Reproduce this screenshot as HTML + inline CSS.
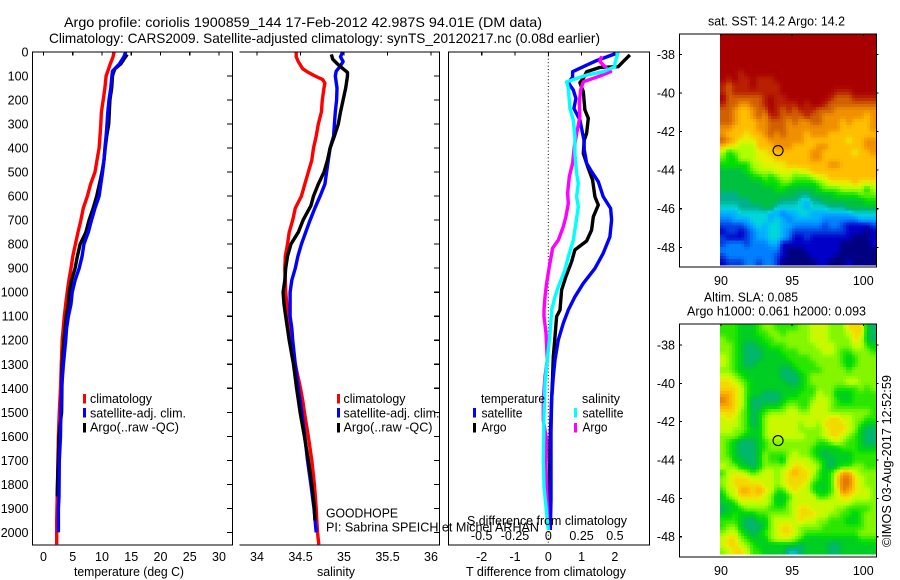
<!DOCTYPE html>
<html>
<head>
<meta charset="utf-8">
<title>Argo profile</title>
<style>
html,body{margin:0;padding:0;background:#fff;width:900px;height:580px;overflow:hidden}
svg{display:block}
text{font-family:"Liberation Sans",sans-serif;font-size:12.5px;fill:#000}
.t{font-size:14px}
</style>
</head>
<body>
<svg id="fig" xmlns="http://www.w3.org/2000/svg" width="900" height="580" viewBox="0 0 900 580">
<rect x="0" y="0" width="900" height="580" fill="#fff"/>
<g id="maps"></g>
<g id="marks"></g>
<g id="frames" fill="none" stroke="#000" stroke-width="1.2" shape-rendering="crispEdges">
  <path d="M32.5 52V545H232.5V52Z"/>
  <path d="M239.5 52H439.5V545H239.5"/>
  <path d="M448.5 52H649.5V545H448.5Z"/>
  <path d="M679.5 34H876.5V267H679.5Z"/>
  <path d="M679.5 324H876.5V557H679.5Z"/>
</g>
<g id="ticks"></g>
<g id="labels">
  <text class="t" x="64" y="27" textLength="478" lengthAdjust="spacingAndGlyphs">Argo profile: coriolis 1900859_144 17-Feb-2012 42.987S 94.01E (DM data)</text>
  <text class="t" x="49" y="43" textLength="551" lengthAdjust="spacingAndGlyphs">Climatology: CARS2009. Satellite-adjusted climatology: synTS_20120217.nc (0.08d earlier)</text>
  <text x="74" y="576" textLength="110" lengthAdjust="spacingAndGlyphs">temperature (deg C)</text>
  <text x="317" y="576" textLength="38" lengthAdjust="spacingAndGlyphs">salinity</text>
  <text x="466" y="576" textLength="160" lengthAdjust="spacingAndGlyphs">T difference from climatology</text>
  <text x="467" y="525" textLength="160" lengthAdjust="spacingAndGlyphs">S difference from climatology</text>
  <text x="326" y="517.5" textLength="72" lengthAdjust="spacingAndGlyphs">GOODHOPE</text>
  <text x="326" y="531.5" textLength="213" lengthAdjust="spacingAndGlyphs">PI: Sabrina SPEICH et Michel ARHAN</text>

  <rect x="83" y="394" width="3" height="9.5" fill="#f00"/>
  <rect x="83" y="408" width="3" height="9.5" fill="#00f"/>
  <rect x="83" y="423" width="3" height="9.5" fill="#000"/>
  <text x="90" y="403" textLength="62" lengthAdjust="spacingAndGlyphs">climatology</text>
  <text x="90" y="417.5" textLength="96" lengthAdjust="spacingAndGlyphs">satellite-adj. clim.</text>
  <text x="90" y="431.5" textLength="89" lengthAdjust="spacingAndGlyphs">Argo(..raw -QC)</text>

  <rect x="337" y="394" width="3" height="9.5" fill="#f00"/>
  <rect x="337" y="408" width="3" height="9.5" fill="#00f"/>
  <rect x="337" y="423" width="3" height="9.5" fill="#000"/>
  <text x="343.5" y="403" textLength="62" lengthAdjust="spacingAndGlyphs">climatology</text>
  <text x="343.5" y="417.5" textLength="96" lengthAdjust="spacingAndGlyphs">satellite-adj. clim.</text>
  <text x="343.5" y="431.5" textLength="89" lengthAdjust="spacingAndGlyphs">Argo(..raw -QC)</text>

  <text x="481" y="403" textLength="64" lengthAdjust="spacingAndGlyphs">temperature</text>
  <text x="582" y="403" textLength="38" lengthAdjust="spacingAndGlyphs">salinity</text>
  <rect x="473" y="408" width="3" height="9.5" fill="#00f"/>
  <rect x="473" y="423" width="3" height="9.5" fill="#000"/>
  <rect x="574" y="408" width="3" height="9.5" fill="#0ff"/>
  <rect x="574" y="423" width="3" height="9.5" fill="#f0f"/>
  <text x="481.5" y="417.5" textLength="41" lengthAdjust="spacingAndGlyphs">satellite</text>
  <text x="481.5" y="431.5" textLength="25" lengthAdjust="spacingAndGlyphs">Argo</text>
  <text x="582.5" y="417.5" textLength="41" lengthAdjust="spacingAndGlyphs">satellite</text>
  <text x="582.5" y="431.5" textLength="25" lengthAdjust="spacingAndGlyphs">Argo</text>

  <text x="708" y="25.5" textLength="137" lengthAdjust="spacingAndGlyphs">sat. SST: 14.2  Argo: 14.2</text>
  <text x="704" y="301.5" textLength="94" lengthAdjust="spacingAndGlyphs">Altim. SLA: 0.085</text>
  <text x="687" y="315.5" textLength="179" lengthAdjust="spacingAndGlyphs">Argo h1000: 0.061 h2000: 0.093</text>
  <text transform="translate(891 547) rotate(-90)" x="0" y="0" textLength="172" lengthAdjust="spacingAndGlyphs">©IMOS 03-Aug-2017 12:52:59</text>
</g>
</svg>
<script>
// ---- axis ticks ----
const depthTicks = [0,100,200,300,400,500,600,700,800,900,1000,1100,1200,1300,1400,1500,1600,1700,1800,1900,2000];
const tempTicks = [0,5,10,15,20,25,30];
const salTicks = [34,34.5,35,35.5,36];
const tDiffTicks = [-2,-1,0,1,2];
const sDiffTicks = [-0.5,-0.25,0,0.25,0.5];
const lonTicks = [90,95,100];
const latTicks = [-38,-40,-42,-44,-46,-48];

// ---- temperature profiles ----
const climTDepth = [0,20,50,80,100,150,200,250,300,350,400,450,500,550,600,650,700,750,800,850,900,950,1000,1050,1100,1200,1300,1400,1500,1600,1800,1950,2050];
const climT = [12.05,11.9,11.4,11.0,10.7,10.5,10.2,9.9,9.8,9.65,9.5,9.15,8.8,8.05,7.5,6.8,6.4,5.9,5.45,5.0,4.7,4.35,4.05,3.8,3.55,3.2,3.05,2.9,2.7,2.55,2.4,2.25,2.25];
const satTDepth = [0,20,50,80,100,150,200,250,300,350,400,450,500,550,600,650,700,750,800,850,900,950,1000,1050,1100,1150,1200,1300,1400,1500,1600,1650,1700,1850,1900,2000];
const satT = [14.05,13.75,12.95,11.8,11.7,11.5,11.2,11.0,10.85,10.7,10.5,10.35,10.1,9.8,9.5,8.8,8.2,7.65,6.9,6.6,6.1,5.4,4.9,4.7,4.25,3.95,3.8,3.4,3.1,2.95,2.9,2.8,2.7,2.65,2.55,2.55];
const argoTDepth = [10,30,50,70,90,100,150,200,250,300,350,400,450,500,550,600,650,700,750,800,850,900,950,1000,1050,1100,1200,1300,1400,1500,1550,1600,1800,1850];
const argoT = [14.3,13.75,13.2,12.2,11.9,11.8,11.65,11.35,11.25,11.15,10.8,10.55,10.35,10.0,9.55,9.1,8.5,7.8,7.25,6.25,5.8,5.4,4.8,4.4,4.25,3.9,3.5,3.2,3.15,3.1,2.85,2.65,2.4,2.35];

// ---- salinity profiles ----
const climSDepth = [0,20,40,70,85,100,115,130,150,200,250,300,350,400,450,500,550,600,650,700,750,800,850,900,1000,1100,1200,1300,1350,1400,1450,1500,1600,1700,1800,1900,2000,2050];
const climS = [34.45,34.45,34.475,34.525,34.59,34.667,34.755,34.78,34.77,34.75,34.74,34.705,34.68,34.65,34.63,34.59,34.55,34.51,34.44,34.41,34.37,34.35,34.325,34.32,34.33,34.355,34.38,34.44,34.47,34.5,34.525,34.545,34.59,34.63,34.66,34.68,34.695,34.71];
const satSDepth = [0,20,40,60,80,100,150,200,250,300,350,400,450,500,550,600,650,700,750,800,850,900,950,1000,1100,1150,1200,1300,1400,1500,1600,1700,1800,1900,2000];
const satS = [34.985,34.96,34.99,34.955,34.91,34.9,34.92,34.915,34.9,34.89,34.88,34.84,34.82,34.8,34.78,34.725,34.665,34.61,34.56,34.51,34.47,34.44,34.4,34.38,34.38,34.4,34.41,34.44,34.475,34.515,34.55,34.58,34.62,34.655,34.68];
const argoSDepth = [10,30,50,70,85,100,150,200,250,300,350,400,450,500,550,600,640,700,750,800,850,900,950,1000,1050,1100,1200,1300,1400,1500,1600,1700,1800,1900,1950];
const argoS = [34.855,34.87,34.925,34.99,35.04,35.04,35.02,34.99,34.96,34.935,34.89,34.84,34.81,34.77,34.705,34.65,34.62,34.53,34.475,34.39,34.35,34.33,34.32,34.3,34.31,34.33,34.37,34.42,34.455,34.495,34.545,34.59,34.63,34.66,34.665];

// ---- differences from climatology ----
const satTdiffDepth = [8,36,58,82,105,128,158,193,235,283,318,366,408,463,498,540,602,651,699,769,838,901,963,1019,1074,1129,1199,1282,1351,1449,1588,1865,1990];
const satTdiff = [2.0,1.45,1.1,0.73,0.73,0.6,0.75,0.83,0.77,0.95,1.0,1.07,1.08,1.15,1.3,1.5,1.65,1.87,1.9,1.85,1.65,1.4,1.05,0.8,0.6,0.45,0.3,0.2,0.15,0.1,0.08,0.08,0.06];
const argoTdiffDepth = [12,40,61,64,82,110,128,165,241,276,339,366,422,484,533,602,637,686,741,787,824,873,935,991,1074,1101,1185,1268,1351,1449,1629,1865,1976];
const argoTdiff = [2.45,2.25,2.1,1.55,1.15,1.05,0.95,1.05,1.1,1.2,1.15,1.08,1.05,1.2,1.33,1.4,1.5,1.35,1.3,1.15,0.8,0.7,0.53,0.4,0.35,0.25,0.2,0.15,0.13,0.1,0.05,0.03,0.0];
const satSdiffDepth = [0,47,61,82,96,124,151,235,283,352,422,505,547,602,644,713,783,852,908,977,1019,1074,1087,1171,1282,1379,1518,1699,1810,1893,1990];
const satSdiff = [0.525,0.5,0.5,0.4125,0.2875,0.1375,0.15,0.1625,0.1875,0.2,0.2,0.2125,0.225,0.2125,0.225,0.2075,0.1875,0.15,0.125,0.075,0.05,0.025,0.025,0.0125,-0.0075,-0.025,-0.0325,-0.0375,-0.0325,-0.0175,0.0];
const argoSdiffDepth = [17,40,61,82,100,124,158,214,269,325,394,463,519,588,630,686,727,783,817,894,963,1019,1074,1101,1171,1282,1351,1449,1532,1615,1726,1893,1990];
const argoSdiff = [0.4,0.3875,0.425,0.4675,0.3875,0.2625,0.2425,0.2325,0.2375,0.2175,0.195,0.1825,0.1575,0.145,0.15,0.1325,0.1125,0.075,0.0325,0.0075,-0.0125,-0.025,-0.0325,-0.0325,-0.0175,-0.0075,-0.025,-0.0375,-0.0375,-0.0125,-0.0175,-0.0075,0.0];

// ---- Argo float position ----
const floatLon = [94.01];
const floatLat = [-42.987];

// ---- SST map, colour-scale level per cell (row = north to south) ----
const sstLevels = [
[16,16,16,16,16,16,16,16,16,16,16,16,16,16,16,16,16,16,16,16,16,16,16,16,16,16],
[16,16,16,16,16,16,16,16,16,16,16,16,16,16,16,16,16,16,16,16,16,16,16,16,16,16],
[16,16,16,16,16,16,16,16,16,16,16,16,16,16,16,16,16,16,16,16,16,16,16,16,16,16],
[16,16,16,16,16,16,16,16,16,16,16,16,16,16,16,16,16,16,16,16,16,16,16,16,16,16],
[16,16,16,16,16,16,16,16,16,16,16,16,16,16,16,16,16,16,16,16,16,16,16,16,16,16],
[16,16,16,16,16,16,16,16,16,16,16,16,16,16,16,16,16,16,16,16,16,16,16,16,16,16],
[16,16,16,15,16,16,16,16,16,16,16,16,16,16,16,16,16,16,16,16,16,16,16,16,16,16],
[16,15,16,15,15,16,15,15,15,16,16,16,16,16,16,16,16,16,16,16,16,16,16,16,16,16],
[15,14,15,15,15,16,15,15,15,15,16,16,16,16,16,16,16,16,16,16,16,16,16,16,16,16],
[15,14,15,15,15,15,15,15,15,15,16,16,16,16,16,16,16,16,16,15,15,15,16,16,16,16],
[16,14,14,14,14,14,14,15,16,15,15,16,16,16,16,16,16,16,15,14,14,14,15,15,15,15],
[15,14,14,13,13,14,14,15,16,15,15,15,15,16,15,16,16,15,14,14,14,14,14,14,14,14],
[14,14,13,12,12,13,14,14,16,15,14,15,14,15,15,15,14,14,14,13,13,13,13,13,13,13],
[14,14,13,12,12,13,14,13,15,15,14,14,14,14,15,14,14,13,13,13,13,13,13,13,12,13],
[14,14,13,12,12,12,13,13,14,14,14,13,14,13,13,14,14,13,13,13,12,13,12,12,12,13],
[13,13,12,12,12,12,13,13,14,14,14,13,13,13,13,13,13,13,13,13,12,12,12,12,12,13],
[13,12,12,12,11,12,12,13,14,13,14,13,13,13,12,13,13,13,12,12,12,12,12,12,12,12],
[14,13,12,11,11,11,12,12,13,13,13,13,13,13,12,12,12,12,12,12,12,11,12,12,13,13],
[12,11,11,10,10,10,12,12,12,13,13,13,12,12,12,12,13,13,12,12,12,12,12,12,13,13],
[10,8,9,10,10,10,11,11,12,12,12,12,12,12,12,13,13,12,12,12,12,12,11,12,12,13],
[9,8,8,10,10,10,11,11,11,12,12,12,12,12,12,13,13,12,12,12,12,12,12,12,12,12],
[8,8,8,8,8,10,10,11,11,11,11,12,12,12,12,12,12,12,13,13,12,12,12,12,12,12],
[7,7,7,7,8,9,10,10,10,11,11,11,10,11,11,12,12,12,12,12,12,12,12,12,12,12],
[7,7,7,7,7,8,8,9,8,9,10,10,9,9,9,10,11,11,12,12,12,12,12,12,12,12],
[7,7,7,7,7,7,7,8,8,8,9,9,8,8,8,8,9,10,11,11,11,11,12,11,11,11],
[7,7,7,7,7,7,7,7,7,8,8,7,7,7,7,7,8,9,9,9,10,10,10,10,8,10],
[6,6,6,7,7,7,7,7,7,7,7,7,7,6,6,7,7,7,7,8,8,8,8,9,9,9],
[6,6,6,6,6,7,7,7,7,7,6,6,6,5,4,6,6,7,7,7,7,7,7,7,8,8],
[5,5,5,6,6,6,6,7,7,5,5,5,5,5,4,5,5,5,6,6,6,7,7,7,7,7],
[4,4,4,5,5,5,5,5,4,4,3,4,4,5,5,4,4,4,4,4,4,4,5,5,5,5],
[3,3,4,4,4,5,5,5,4,5,4,3,4,4,4,4,4,3,3,3,3,3,3,4,4,4],
[2,2,2,2,3,4,5,4,5,5,4,4,3,3,3,3,3,2,3,3,2,1,1,1,1,2],
[1,2,2,1,2,3,4,4,5,5,4,3,2,2,2,2,2,2,2,2,2,1,1,1,0,1],
[2,1,1,1,2,3,4,4,5,5,4,3,1,1,2,1,1,1,1,1,1,1,0,0,0,1],
[2,3,3,3,2,3,3,3,4,4,1,1,1,1,1,1,1,1,1,1,0,0,0,0,0,1],
[3,3,3,3,3,3,3,3,3,3,1,0,0,0,1,1,1,1,1,1,0,0,0,0,0,0],
[2,3,3,3,3,3,3,3,3,2,1,0,0,0,0,1,1,1,1,0,0,0,0,0,0,0],
[1,2,2,2,3,3,2,3,3,2,0,0,0,0,0,0,1,1,0,0,0,1,0,0,0,0]
];

// ---- SLA map, colour-scale level per cell ----
const slaLevels = [
[8,8,8,7,7,7,8,9,9,8,8,8,8,9,9,10,10,10,9,9,9,11,11,11,7,6],
[8,8,8,7,7,7,8,8,9,9,8,9,9,9,9,10,10,10,9,9,9,10,11,11,7,6],
[9,8,8,7,7,7,7,8,8,9,9,9,9,9,9,10,10,10,9,9,9,9,11,10,7,6],
[9,9,8,7,6,6,7,7,8,8,8,9,9,9,9,9,10,10,10,9,9,9,10,10,8,7],
[9,9,8,7,6,6,6,7,7,7,8,8,8,9,9,9,9,10,10,9,8,8,9,9,9,8],
[10,9,8,7,6,6,6,7,7,7,7,8,8,8,8,9,9,9,9,9,8,7,8,9,9,9],
[10,9,8,7,6,6,7,7,7,7,7,7,8,8,8,8,9,9,9,9,8,7,8,9,9,9],
[9,9,8,7,7,7,7,7,7,7,6,6,7,8,8,8,8,9,9,9,9,8,9,9,9,9],
[10,10,9,8,7,7,7,7,7,7,6,6,6,7,8,9,9,9,9,9,9,9,9,9,9,9],
[11,11,10,9,8,7,7,7,7,7,7,6,6,7,8,9,9,9,9,9,9,10,10,9,9,9],
[11,11,11,10,8,7,7,7,7,7,7,7,7,7,8,8,9,9,9,8,8,8,8,9,8,9],
[12,12,11,10,8,7,7,6,6,6,7,7,7,8,8,8,10,9,9,7,7,7,8,8,8,8],
[13,12,11,10,8,6,6,6,6,6,7,8,8,8,8,9,10,10,9,8,7,7,8,8,8,8],
[12,12,11,10,8,6,6,7,7,7,8,9,9,8,8,10,10,10,9,8,8,8,8,8,8,8],
[11,11,11,9,8,6,7,8,9,9,9,10,10,9,9,10,10,10,9,9,9,9,9,9,9,8],
[10,11,10,9,8,6,7,9,10,10,10,10,10,10,10,10,10,10,11,11,10,10,9,9,8,8],
[10,10,10,9,8,6,7,9,10,10,10,10,10,9,10,10,9,11,11,11,11,10,9,8,7,7],
[10,10,9,9,8,7,7,9,10,10,10,10,10,9,9,9,9,10,11,11,11,10,9,7,6,6],
[9,9,9,8,7,7,7,9,10,10,10,10,10,10,9,9,9,10,11,11,10,9,8,7,6,6],
[9,8,7,6,6,6,7,8,9,9,9,9,9,9,9,9,8,8,9,10,9,8,8,7,6,6],
[9,8,7,6,6,6,7,8,9,9,9,9,9,9,9,8,7,7,7,7,8,8,8,7,7,7],
[9,8,7,6,6,6,7,9,8,8,8,9,10,9,9,8,7,6,7,7,7,7,8,8,8,8],
[9,9,7,7,6,6,7,9,8,8,7,10,10,10,10,9,8,7,6,7,7,7,8,8,8,8],
[10,9,9,7,7,6,7,9,9,9,9,10,11,11,10,10,9,7,6,7,8,8,9,9,8,8],
[8,10,10,10,9,8,9,10,10,9,10,11,12,11,11,10,8,7,8,10,12,12,10,9,9,9],
[9,10,11,11,11,10,10,10,10,9,10,11,11,11,11,9,8,7,8,11,13,13,11,10,9,9],
[9,10,11,11,11,11,11,10,10,9,10,11,11,11,10,8,7,7,8,11,13,13,11,10,9,9],
[8,10,10,12,12,11,12,11,10,8,8,10,11,10,10,8,7,7,8,10,13,12,11,10,10,9],
[7,9,10,11,11,11,11,10,9,7,7,8,10,10,10,10,8,8,9,10,11,11,10,10,10,9],
[7,7,8,10,10,10,10,10,9,7,7,9,10,10,10,10,10,10,10,10,10,10,9,9,9,9],
[6,7,7,8,9,9,9,9,8,8,8,9,10,11,11,10,10,10,10,9,9,8,8,8,8,9],
[7,7,8,7,7,7,8,8,9,9,9,9,10,11,11,11,10,10,9,9,8,8,7,8,9,9],
[8,8,8,7,6,6,7,7,9,10,10,10,10,11,10,10,9,9,8,8,8,7,7,8,9,9],
[8,9,9,7,6,6,6,7,9,10,11,11,10,9,9,9,9,8,8,8,8,8,8,8,9,9],
[9,10,10,8,7,6,7,8,9,10,11,11,10,9,8,8,8,8,8,8,8,8,8,9,9,9],
[10,11,11,9,8,7,7,7,9,10,10,10,9,8,7,7,7,7,7,7,7,7,7,8,8,8],
[10,11,11,10,9,8,7,7,7,7,7,7,7,6,7,7,7,7,6,6,7,7,7,7,7,7],
[9,10,11,11,10,8,8,7,7,7,7,5,5,6,7,7,7,7,6,6,7,7,7,7,7,7]
];

const NS = 'http://www.w3.org/2000/svg';
const colourStops = [[0,0,128],[0,0,200],[0,64,224],[0,128,255],[0,176,255],[0,216,216],[0,176,144],[0,192,64],[0,224,0],[96,240,0],[176,255,0],[232,240,0],[255,190,0],[240,144,0],[208,96,0],[184,32,0],[168,0,0]];

function colour(v){
  const c = Math.max(0, Math.min(colourStops.length-1, v));
  const i = Math.min(colourStops.length-2, Math.floor(c));
  const f = c-i, a = colourStops[i], b = colourStops[i+1];
  return 'rgb('+[0,1,2].map(k=>Math.round(a[k]+(b[k]-a[k])*f)).join(',')+')';
}

// axis functions
const xTemp = v => 43.5 + v*5.85;
const xSal = v => 257 + (v-34)*87;
const xTd = v => 548.3 + v*33.3;
const xSd = v => 548.3 + v*133.2;
const yDepth = d => 52 + d*0.2402;
const xLon = v => 721 + (v-90)*14.23;
const ySst = v => 54.3 + (-38-v)*19.3;
const ySla = v => 345 + (-38-v)*19.17;

function make(tag, parent, props){
  const el = document.createElementNS(NS, tag);
  for (const k in props) el.setAttribute(k, props[k]);
  parent.appendChild(el);
  return el;
}
function pts(depths, vals, xf){
  return vals.map((v,i)=>xf(v).toFixed(1)+','+yDepth(depths[i]).toFixed(1)).join(' ');
}
function profile(depths, vals, xf, colourName){
  return make('polyline', document.getElementById('marks'), {points:pts(depths,vals,xf), fill:'none', stroke:colourName, 'stroke-width':3.4, 'stroke-linejoin':'round'});
}

const marks = document.getElementById('marks');
const ticks = document.getElementById('ticks');
const labels = document.getElementById('labels');
const maps = document.getElementById('maps');

// sample a level grid between cell centres
function levelAt(grid, fr, fc){
  const nr = grid.length, nc = grid[0].length;
  const r = Math.max(0, Math.min(nr-1, fr)), c = Math.max(0, Math.min(nc-1, fc));
  const r0 = Math.floor(r), c0 = Math.floor(c), r1 = Math.min(nr-1,r0+1), c1 = Math.min(nc-1,c0+1);
  const dr = r-r0, dc = c-c0;
  return (grid[r0][c0]*(1-dc)+grid[r0][c1]*dc)*(1-dr)+(grid[r1][c0]*(1-dc)+grid[r1][c1]*dc)*dr;
}

const mapLon0 = 89.93, cellLon = 0.4216, cellLat = 0.315;

// ----- SST map cells, each split in two for the graded shading
const sstLat0 = -36.95;
const sstGroup = make('g', maps, {'shape-rendering':'crispEdges'});


for (let r=0; r<sstLevels.length*2; r++){
  for (let c=0; c<sstLevels[0].length*2; c++){
    const x0 = xLon(mapLon0+c*cellLon/2), x1 = xLon(mapLon0+(c+1)*cellLon/2);
    const y0 = ySst(sstLat0-r*cellLat/2), y1 = ySst(sstLat0-(r+1)*cellLat/2);
    const v = levelAt(sstLevels, (r+0.5)/2-0.5, (c+0.5)/2-0.5);
    const el = make('rect', sstGroup, {x:x0.toFixed(2), y:y0.toFixed(2), width:(x1-x0+0.4).toFixed(2), height:(y1-y0+0.4).toFixed(2), fill:colour(v)});
    
    
  }
}

// ----- SLA map cells
const slaLat0 = -36.93;
const slaColourShift = 0.45;
const slaGroup = make('g', maps, {'shape-rendering':'crispEdges'});


for (let r=0; r<slaLevels.length*2; r++){
  for (let c=0; c<slaLevels[0].length*2; c++){
    const x0 = xLon(mapLon0+c*cellLon/2), x1 = xLon(mapLon0+(c+1)*cellLon/2);
    const y0 = ySla(slaLat0-r*cellLat/2), y1 = ySla(slaLat0-(r+1)*cellLat/2);
    const v = levelAt(slaLevels, (r+0.5)/2-0.5, (c+0.5)/2-0.5);
    const el = make('rect', slaGroup, {x:x0.toFixed(2), y:y0.toFixed(2), width:(x1-x0+0.4).toFixed(2), height:(y1-y0+0.4).toFixed(2), fill:colour(v+slaColourShift)});
    
    
  }
}

// ----- float position markers
floatLon.forEach((lon,i)=>{
  const a = make('circle', maps, {cx:xLon(lon), cy:ySst(floatLat[i]), r:5, fill:'none', stroke:'#000', 'stroke-width':1.1});
  
  
  const b = make('circle', maps, {cx:xLon(lon), cy:ySla(floatLat[i]), r:5, fill:'none', stroke:'#000', 'stroke-width':1.1});
  
  
});

// ----- zero line of the difference panel
const zeroLine = make('line', marks, {x1:xTd(0), x2:xTd(0), y1:52, y2:545, stroke:'#000', 'stroke-width':1, 'stroke-dasharray':'1 2.4'});



// ----- profiles
let line;
line = profile(climTDepth, climT, xTemp, '#f00');


line = profile(argoTDepth, argoT, xTemp, '#000');


line = profile(satTDepth, satT, xTemp, '#00f');


line = profile(climSDepth, climS, xSal, '#f00');


line = profile(satSDepth, satS, xSal, '#00f');


line = profile(argoSDepth, argoS, xSal, '#000');


line = profile(argoTdiffDepth, argoTdiff, xTd, '#000');


line = profile(satTdiffDepth, satTdiff, xTd, '#00f');


line = profile(argoSdiffDepth, argoSdiff, xSd, '#f0f');


line = profile(satSdiffDepth, satSdiff, xSd, '#0ff');



// ----- ticks
function tick(x1,y1,x2,y2){
  return make('line', ticks, {x1:x1,y1:y1,x2:x2,y2:y2,stroke:'#000','stroke-width':1.1,'shape-rendering':'crispEdges'});
}
function label(x,y,str,anchor){
  const el = make('text', labels, {x:x,y:y,'text-anchor':anchor});
  el.textContent = str;
  return el;
}
depthTicks.forEach(d=>{
  const y = yDepth(d);
  let t = tick(227, y, 232.5, y);
  
  
  t = tick(434, y, 439.5, y);
  
  
  const l = label(28.5, y+4.5, String(d), 'end');
  
  
});
tempTicks.forEach(v=>{
  const t = tick(xTemp(v), 52, xTemp(v), 55.5);
  
  
  const l = label(xTemp(v), 561, String(v), 'middle');
  
  
});
salTicks.forEach(v=>{
  const t = tick(xSal(v), 52, xSal(v), 55.5);
  
  
  const l = label(xSal(v), 561, String(v), 'middle');
  
  
});
tDiffTicks.forEach(v=>{
  const t = tick(xTd(v), 52, xTd(v), 55.5);
  
  
  const l = label(xTd(v), 561, String(v), 'middle');
  
  
});
sDiffTicks.forEach(v=>{
  const l = label(xSd(v), 540, String(v), 'middle');
  
  
});
lonTicks.forEach(v=>{
  let t = tick(xLon(v), 34, xLon(v), 36);
  
  
  t = tick(xLon(v), 324, xLon(v), 326);
  
  
  let l = label(xLon(v), 285, String(v), 'middle');
  
  
  l = label(xLon(v), 575, String(v), 'middle');
  
  
});
latTicks.forEach(v=>{
  let t = tick(679.5, ySst(v), 682, ySst(v));
  
  
  t = tick(876.5, ySst(v), 878.5, ySst(v));
  
  
  t = tick(679.5, ySla(v), 682, ySla(v));
  
  
  t = tick(876.5, ySla(v), 878.5, ySla(v));
  
  
  let l = label(675, ySst(v)+4.5, String(v), 'end');
  
  
  l = label(675, ySla(v)+4.5, String(v), 'end');
  
  
});
</script>
</body>
</html>
